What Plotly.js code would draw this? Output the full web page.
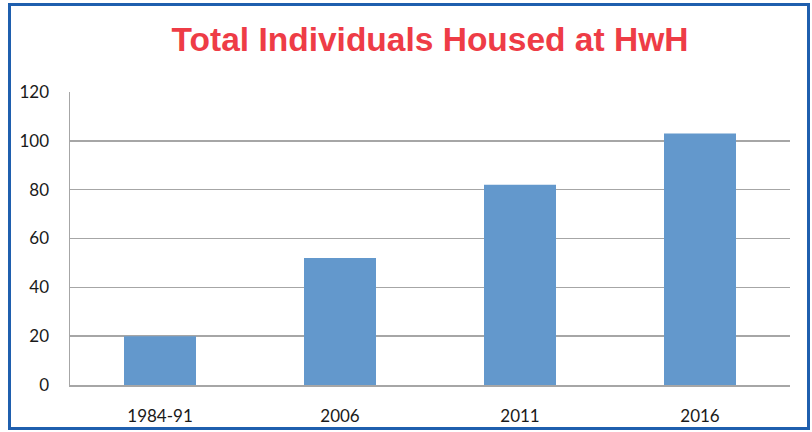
<!DOCTYPE html>
<html>
<head>
<meta charset="utf-8">
<script src="https://cdn.plot.ly/plotly-3.0.1.min.js"></script>
<style>
  html, body { margin: 0; padding: 0; background: #ffffff; }
  #frame { position: absolute; left: 8px; top: 3px; width: 802px; height: 427px;
           box-sizing: border-box; border: 3px solid #1f5fae; }
  #chart { position: absolute; left: 0; top: 0; width: 812px; height: 432px; }
</style>
</head>
<body>
<div id="frame"></div>
<div id="chart"></div>
<script>
const categories = ["1984-91", "2006", "2011", "2016"];
const housed = [20, 52, 82, 103];
const yTicks = [0, 20, 40, 60, 80, 100, 120];

const trace = {
  type: "bar",
  x: categories,
  y: housed,
  marker: { color: "#6398cc" },
  width: 0.4,
  hoverinfo: "x+y"
};

const layout = {
  width: 812,
  height: 432,
  margin: { l: 70, r: 22, t: 92, b: 47 },
  paper_bgcolor: "rgba(0,0,0,0)",
  plot_bgcolor: "rgba(0,0,0,0)",
  title: {
    text: "<b>Total Individuals Housed at HwH</b>",
    font: { family: "Liberation Sans, Arial, sans-serif", size: 33.5, color: "#ee3c46" },
    x: 0.5, xref: "paper", xanchor: "center",
    y: 1 - 39 / 432, yref: "container", yanchor: "middle"
  },
  xaxis: {
    type: "category",
    showgrid: false,
    showline: true,
    linecolor: "#a6a6a6",
    linewidth: 1.5,
    ticks: "",
    tickfont: { family: "Lato, Open Sans, sans-serif", size: 17, color: "#1a1a1a" },
    ticklabelstandoff: 15,
    fixedrange: true
  },
  yaxis: {
    range: [0, 120],
    tickvals: yTicks,
    ticktext: yTicks.map(String),
    showgrid: true,
    gridcolor: "#a6a6a6",
    gridwidth: 1.5,
    zeroline: false,
    showline: true,
    linecolor: "#a6a6a6",
    linewidth: 1.5,
    ticks: "",
    tickfont: { family: "Lato, Open Sans, sans-serif", size: 17, color: "#1a1a1a" },
    ticklabelstandoff: 16,
    fixedrange: true
  },
  showlegend: false,
  bargap: 0.6
};

Plotly.newPlot("chart", [trace], layout, { displayModeBar: false, staticPlot: true });
</script>
</body>
</html>
